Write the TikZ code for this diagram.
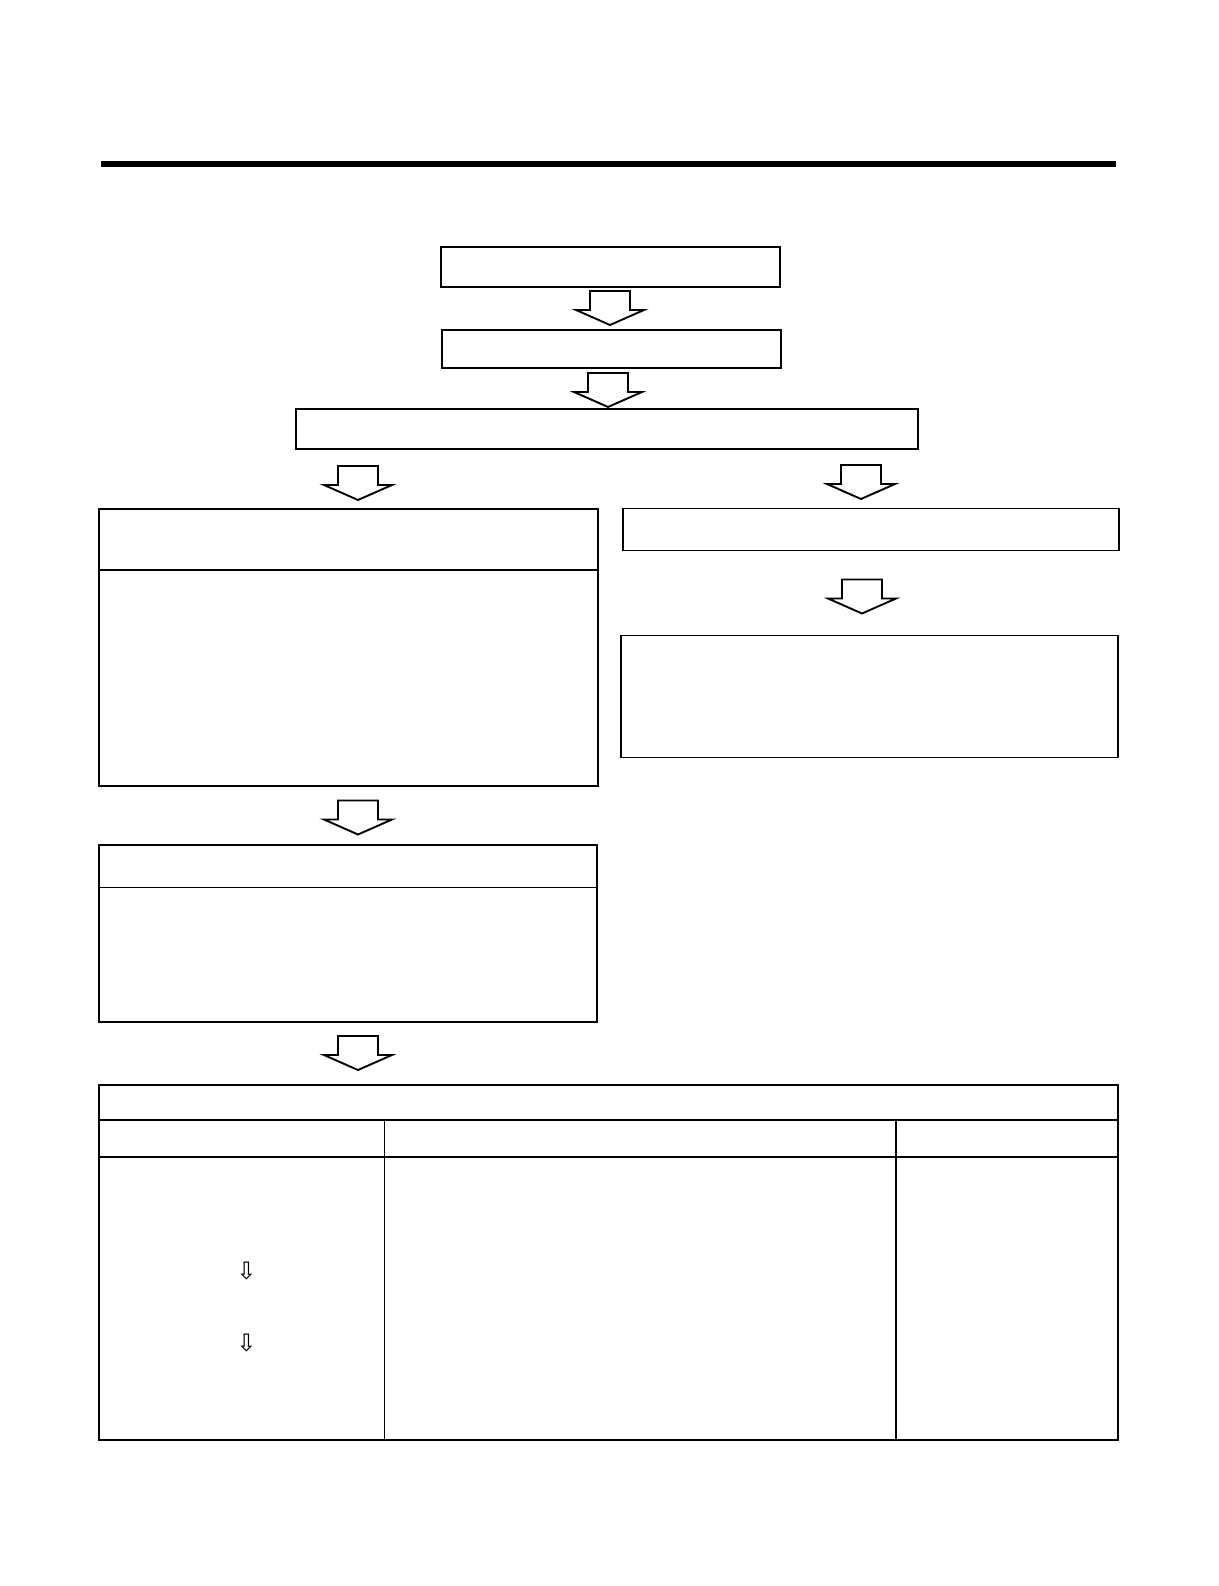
\documentclass[tikz,border=0pt]{standalone}
\usepackage{fontspec}
\newfontfamily\symfont{DejaVu Sans}
\usetikzlibrary{calc}
\tikzset{
  box/.style={draw=black, line width=1.8pt, fill=white, inner sep=0pt, anchor=north west},
  rule/.style={line width=1.8pt},
  blockarrow/.style={draw=black, line width=1.9pt, fill=white, line join=miter},
  smallarr/.style={inner sep=0pt, font=\symfont\fontsize{24}{24}\selectfont}
}
% block arrow: #1 = centre x, #2 = top y
\newcommand{\blockarr}[2]{%
  \draw[blockarrow] (#1-20,#2) -- (#1+20,#2) -- (#1+20,#2+19) -- (#1+34,#2+19)
     -- (#1,#2+34) -- (#1-34,#2+19) -- (#1-20,#2+19) -- cycle;}
\begin{document}
\begin{tikzpicture}[x=1pt,y=-1pt]
\useasboundingbox (0,0) rectangle (1218,1586);
% header rule
\coordinate (hl) at (101,164);
\coordinate (hr) at (1116,164);
\draw[line width=6pt] (hl) -- (hr);
% boxes
\node[box, minimum width=339pt, minimum height=40pt] (b1) at (440,246) {};
\node[box, minimum width=339pt, minimum height=38pt] (b2) at (441,329) {};
\node[box, minimum width=622pt, minimum height=40pt] (b3) at (295,408) {};
\node[box, minimum width=499pt, minimum height=277pt] (bA) at (98,508) {};
\node[box, minimum width=496pt, minimum height=42pt] (bB) at (622,507.5) {};
\node[box, minimum width=497pt, minimum height=122pt] (bC) at (620,634.5) {};
\node[box, minimum width=498pt, minimum height=177pt] (bD) at (98,844) {};
\node[box, minimum width=1019pt, minimum height=355pt] (tb) at (98,1084) {};
% dividers
\draw[rule] (bA.west |- 0,570) -- (bA.east |- 0,570);
\draw[rule] (bD.west |- 0,887.5) -- (bD.east |- 0,887.5);
% table grid
\coordinate (c1) at (384.5,1120);
\coordinate (c2) at (896,1120);
\draw[rule] (tb.west |- c1) -- (tb.east |- c1);
\draw[rule] (tb.west |- 0,1157) -- (tb.east |- 0,1157);
\draw[rule] (c1) -- (c1 |- tb.south);
\draw[rule] (c2) -- (c2 |- tb.south);
% block arrows between boxes
\blockarr{610}{291}
\blockarr{608}{373}
\blockarr{358}{466}
\blockarr{861}{465}
\blockarr{862}{579.5}
\blockarr{358}{800.5}
\blockarr{358}{1036}
% small arrows in table
\node[smallarr] (s1) at (246.5,1271) {⇩};
\node[smallarr] (s2) at (246.5,1343) {⇩};
\end{tikzpicture}
\end{document}
